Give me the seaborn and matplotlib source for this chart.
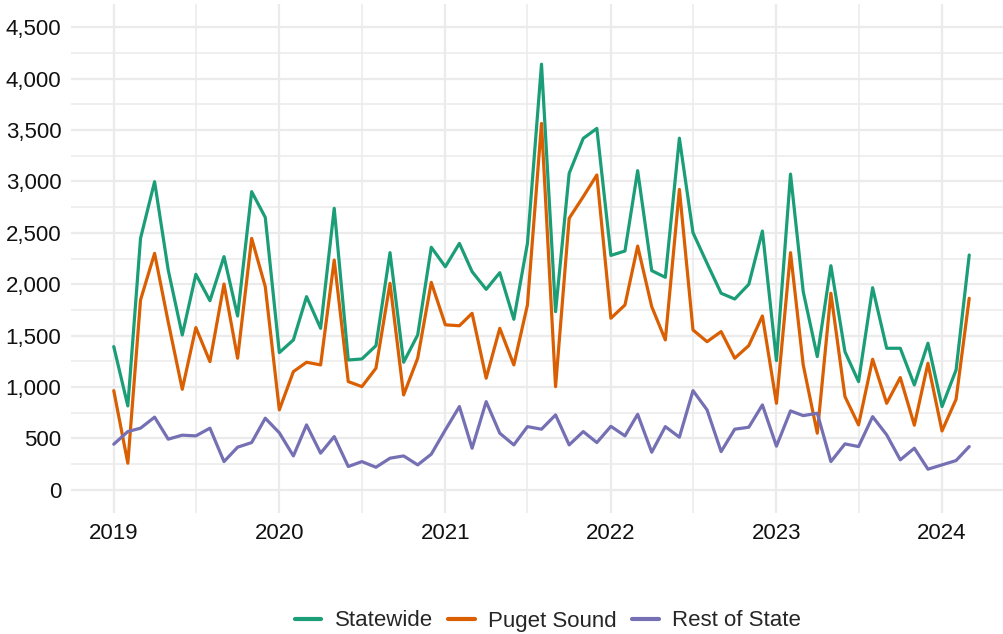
import pandas as pd
import matplotlib
matplotlib.use("Agg")
import matplotlib.pyplot as plt
import matplotlib.dates as mdates
import matplotlib.ticker as mticker
import seaborn as sns

# Monthly values, Jan 2019 - Mar 2024
months = pd.date_range("2019-01-01", periods=63, freq="MS")

statewide = [1393, 816, 2446, 2997, 2138, 1506, 2096, 1840, 2268, 1691, 2900, 2650,
             1335, 1458, 1879, 1571, 2738, 1263, 1273, 1402, 2307, 1241, 1506, 2359,
             2170, 2397, 2122, 1950, 2112, 1659, 2397, 4140, 1733, 3078, 3418, 3515,
             2280, 2323, 3104, 2132, 2067, 3420, 2501, 2203, 1912, 1856, 1999, 2517,
             1257, 3071, 1928, 1296, 2180, 1344, 1053, 1966, 1377, 1377, 1020, 1426,
             810, 1166, 2284]
puget_sound = [965, 259, 1847, 2300, 1633, 978, 1578, 1247, 2002, 1280, 2446, 1976,
               778, 1150, 1241, 1215, 2235, 1053, 1004, 1183, 2009, 923, 1280, 2018,
               1605, 1596, 1717, 1086, 1571, 1215, 1798, 3564, 1004, 2641, 2851, 3062,
               1669, 1798, 2371, 1782, 1458, 2922, 1555, 1441, 1539, 1280, 1403, 1691,
               842, 2307, 1215, 551, 1912, 907, 632, 1270, 842, 1092, 629, 1231,
               573, 881, 1863]
rest_of_state = [444, 567, 600, 707, 493, 532, 525, 600, 275, 415, 460, 697,
                 555, 330, 632, 357, 518, 227, 275, 220, 308, 330, 243, 347,
                 583, 810, 405, 858, 551, 437, 615, 590, 729, 437, 567, 460,
                 618, 525, 735, 366, 615, 512, 965, 778, 372, 590, 609, 826,
                 425, 768, 722, 745, 275, 447, 421, 712, 535, 292, 405, 201,
                 243, 285, 421]

regions = ["Statewide", "Puget Sound", "Rest of State"]
colors = ["#1B9E77", "#D95F02", "#7570B3"]

df = pd.concat([
    pd.DataFrame({"date": months, "value": statewide, "region": "Statewide"}),
    pd.DataFrame({"date": months, "value": puget_sound, "region": "Puget Sound"}),
    pd.DataFrame({"date": months, "value": rest_of_state, "region": "Rest of State"}),
])

sns.set_style("white")
plt.rcParams["font.family"] = ["Liberation Sans", "DejaVu Sans"]

fig = plt.figure(figsize=(10.04, 6.34), dpi=100)
ax = fig.add_axes([71 / 1004, 121 / 634, 941 / 1004, 509 / 634])

sns.lineplot(data=df, x="date", y="value", hue="region", hue_order=regions,
             palette=colors, linewidth=2.3, ax=ax, legend=False)

# ggplot-style 5% expansion
span = months[-1] - months[0]
pad = span * 0.05
ax.set_xlim(months[0] - pad, months[-1] + pad)
ax.set_ylim(-225, 4725)

ax.xaxis.set_major_locator(mdates.YearLocator())
ax.xaxis.set_major_formatter(mdates.DateFormatter("%Y"))
ax.xaxis.set_minor_locator(mdates.MonthLocator(bymonth=7))
ax.yaxis.set_major_locator(mticker.MultipleLocator(500))
ax.yaxis.set_minor_locator(mticker.MultipleLocator(250))
ax.yaxis.set_major_formatter(mticker.StrMethodFormatter("{x:,.0f}"))

ax.grid(which="major", color="#EBEBEB", linewidth=1.6)
ax.grid(which="minor", color="#EBEBEB", linewidth=1.1)
ax.set_axisbelow(True)
for s in ax.spines.values():
    s.set_visible(False)
ax.tick_params(which="both", length=0, labelsize=16, labelcolor="#111111")
ax.tick_params(axis="y", pad=7)
ax.tick_params(axis="x", pad=7)
ax.set_xlabel("")
ax.set_ylabel("")

handles = [plt.Line2D([], [], color=c, linewidth=3) for c in colors]
fig.legend(handles, regions, loc="center", bbox_to_anchor=(548 / 1004, 13 / 634),
           ncol=3, frameon=False, fontsize=16, handlelength=1.2,
           handletextpad=0.6, columnspacing=0.7)

fig.savefig("out.png", dpi=100)
